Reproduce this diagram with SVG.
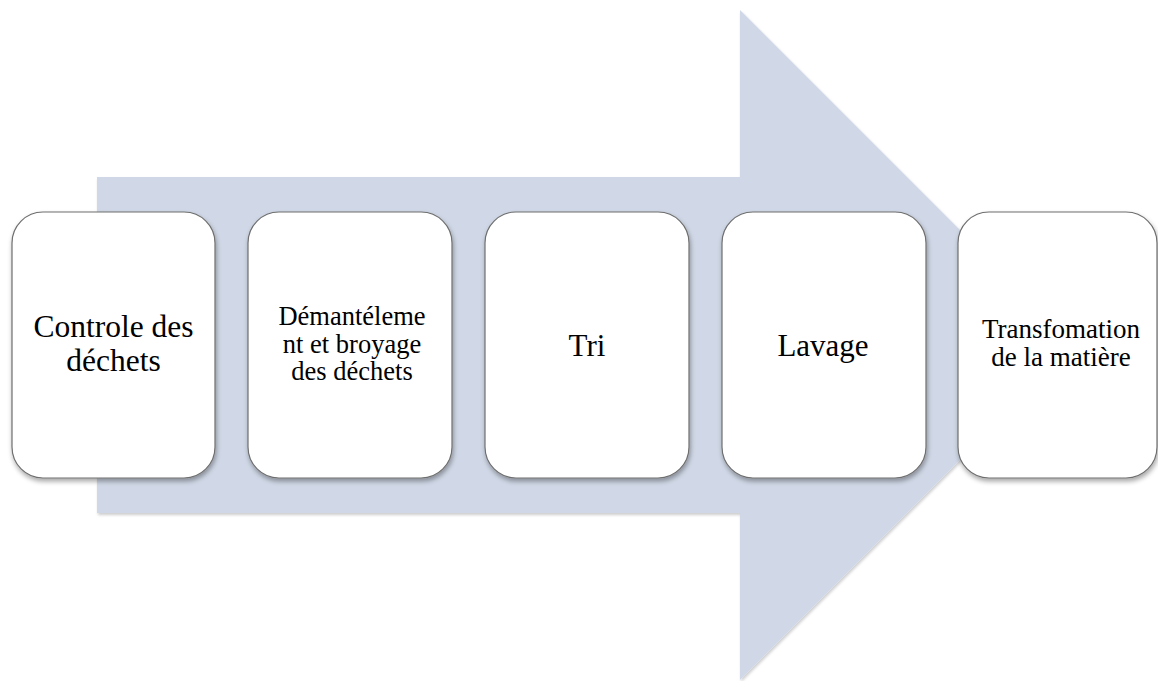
<svg xmlns="http://www.w3.org/2000/svg" width="1158" height="681" viewBox="0 0 1158 681">
<defs>
<filter id="sh" x="-10%" y="-10%" width="130%" height="130%">
<feGaussianBlur in="SourceAlpha" stdDeviation="2.5"/>
<feOffset dx="1" dy="3" result="b"/>
<feComponentTransfer><feFuncA type="linear" slope="0.35"/></feComponentTransfer>
<feMerge><feMergeNode/><feMergeNode in="SourceGraphic"/></feMerge>
</filter>
<filter id="ash" x="-5%" y="-5%" width="110%" height="110%">
<feGaussianBlur in="SourceAlpha" stdDeviation="1.5"/>
<feOffset dx="1" dy="2" result="b"/>
<feComponentTransfer><feFuncA type="linear" slope="0.2"/></feComponentTransfer>
<feMerge><feMergeNode/><feMergeNode in="SourceGraphic"/></feMerge>
</filter>
</defs>
<style>
.box{fill:#ffffff;stroke:#6e6e6e;stroke-width:1.2;filter:url(#sh)}
.t{font-family:"Liberation Serif","Times New Roman",serif;fill:#000;text-anchor:middle}
</style>
<rect width="1158" height="681" fill="#ffffff"/>
<g id="arrow">
<path d="M97,177 L740,177 L740,10 L1075,345 L740,680 L740,513 L97,513 Z" fill="#D0D8E7" filter="url(#ash)"/>
</g>
<g id="connectors"></g>
<g id="n1">
<rect class="box" x="12" y="212" width="203" height="266" rx="31" ry="31"/>
<text class="t" font-size="31.5" x="113.5" y="337">Controle des</text>
<text class="t" font-size="31.5" x="113.5" y="371">déchets</text>
</g>
<g id="n2">
<rect class="box" x="248" y="212" width="204" height="266" rx="31" ry="31"/>
<text class="t" font-size="26.5" x="352" y="325">Démantéleme</text>
<text class="t" font-size="26.5" x="352" y="352.5">nt et broyage</text>
<text class="t" font-size="26.5" x="352" y="380">des déchets</text>
</g>
<g id="n3">
<rect class="box" x="485" y="212" width="204" height="266" rx="31" ry="31"/>
<text class="t" font-size="31" x="587" y="356">Tri</text>
</g>
<g id="n4">
<rect class="box" x="722" y="212" width="204" height="266" rx="31" ry="31"/>
<text class="t" font-size="31" x="823" y="356">Lavage</text>
</g>
<g id="n5">
<rect class="box" x="958" y="212" width="199" height="266" rx="31" ry="31"/>
<text class="t" font-size="27" x="1061" y="337.5">Transfomation</text>
<text class="t" font-size="27" x="1061" y="366">de la matière</text>
</g>
</svg>
